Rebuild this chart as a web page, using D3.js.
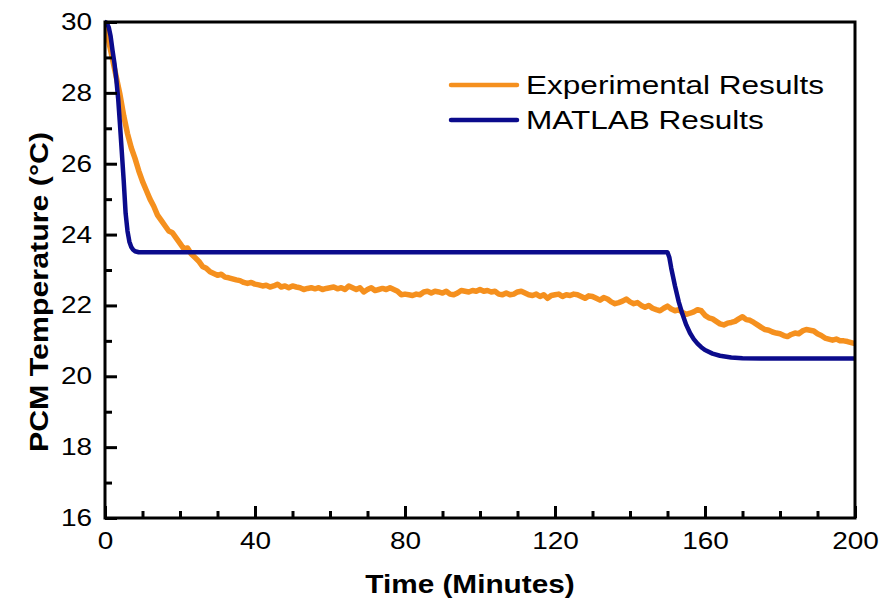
<!DOCTYPE html>
<html>
<head>
<meta charset="utf-8">
<script src="https://cdn.jsdelivr.net/npm/d3@7"></script>
<style>
  html, body { margin: 0; padding: 0; background: #fff; }
  svg { display: block; }
  text { font-family: "Liberation Sans", Arial, sans-serif; fill: #000; }
</style>
</head>
<body>
<svg id="chart" width="884" height="604"></svg>
<script>
// Experimental PCM temperature, one reading per minute from t = 0 to 200 min
const expStart = 0;
const expStep = 1;
const expTemp = [
  29.85, 29.45, 28.95, 28.45, 27.95, 27.35, 26.85, 26.45, 26.15, 25.8, 25.5,
  25.25, 25.0, 24.8, 24.55, 24.4, 24.25, 24.1, 24.05, 23.9, 23.75,
  23.6, 23.62, 23.45, 23.35, 23.25, 23.1, 23.05, 22.95, 22.9, 22.85,
  22.88, 22.8, 22.78, 22.75, 22.72, 22.7, 22.65, 22.62, 22.65, 22.6,
  22.58, 22.55, 22.57, 22.52, 22.55, 22.6, 22.52, 22.55, 22.5, 22.55,
  22.52, 22.5, 22.45, 22.48, 22.5, 22.47, 22.5, 22.45, 22.48, 22.5,
  22.52, 22.47, 22.5, 22.45, 22.55, 22.5, 22.45, 22.5, 22.38, 22.45,
  22.5, 22.42, 22.45, 22.48, 22.45, 22.5, 22.45, 22.4, 22.3, 22.32,
  22.3, 22.28, 22.32, 22.3, 22.38, 22.4, 22.35, 22.4, 22.38, 22.35,
  22.4, 22.32, 22.3, 22.35, 22.42, 22.4, 22.38, 22.42, 22.4, 22.45,
  22.4, 22.42, 22.38, 22.4, 22.32, 22.3, 22.35, 22.3, 22.32, 22.38,
  22.4, 22.35, 22.3, 22.28, 22.32, 22.25, 22.3, 22.2, 22.28, 22.3,
  22.32, 22.25, 22.3, 22.28, 22.32, 22.3, 22.25, 22.2, 22.27, 22.25,
  22.2, 22.15, 22.22, 22.18, 22.1, 22.05, 22.08, 22.12, 22.18, 22.1,
  22.05, 22.08, 22.0, 21.95, 22.0, 21.92, 21.88, 21.85, 21.92, 21.98,
  21.9, 21.85, 21.88, 21.8, 21.75, 21.78, 21.82, 21.88, 21.85, 21.72,
  21.65, 21.62, 21.55, 21.48, 21.45, 21.5, 21.52, 21.55, 21.62, 21.68,
  21.6, 21.58, 21.52, 21.45, 21.38, 21.32, 21.3, 21.25, 21.22, 21.2,
  21.15, 21.12, 21.18, 21.22, 21.2, 21.28, 21.32, 21.3, 21.28, 21.2,
  21.15, 21.08, 21.05, 21.02, 21.05, 21.0, 21.0, 20.98, 20.95, 20.92
];

// MATLAB model output
const matlabTime = [
  0, 0.5, 1, 1.5, 2, 2.5, 3, 3.5, 4, 4.5, 5, 5.5, 6, 6.5, 7, 7.5, 8, 9,
  150, 150.5, 151, 152, 153, 154, 155, 156, 157, 158, 159, 160, 162, 164, 167, 170, 175, 200
];
const matlabTemp = [
  30, 29.97, 29.85, 29.6, 29.2, 28.85, 28.4, 27.85, 27.1, 26.3, 25.5, 24.6, 24.1, 23.8, 23.65, 23.57, 23.53, 23.5,
  23.5, 23.35, 23.05, 22.55, 22.1, 21.75, 21.45, 21.22, 21.05, 20.92, 20.82, 20.74, 20.64, 20.58, 20.53, 20.51, 20.5, 20.5
];

// Axis ticks
const xMajorTicks = [0, 40, 80, 120, 160, 200];
const xMinorTicks = [10, 20, 30, 50, 60, 70, 90, 100, 110, 130, 140, 150, 170, 180, 190];
const yMajorTicks = [16, 18, 20, 22, 24, 26, 28, 30];
const yMinorTicks = [17, 19, 21, 23, 25, 27, 29];

const seriesNames = ["Experimental Results", "MATLAB Results"];
const seriesColors = ["#F5901E", "#0B0B8C"];
const xTitle = "Time (Minutes)";
const yTitle = "PCM Temperature (\u00B0C)";

(function draw() {
  // Glyph widening applied to every label
  const WIDEN = 1.19;
  function widen(sel) {
    sel.each(function () {
      const w = this.getComputedTextLength();
      if (w > 0) {
        d3.select(this)
          .attr("textLength", w * WIDEN)
          .attr("lengthAdjust", "spacingAndGlyphs");
      }
    });
  }

  const svg = d3.select("#chart");
  const pLeft = 105, pRight = 855, pTop = 22, pBottom = 518;

  const x = d3.scaleLinear().domain([0, 200]).range([pLeft, pRight]);
  const y = d3.scaleLinear().domain([16, 30]).range([pBottom, pTop]);

  const expData = expTemp.map((v, i) => ({ t: expStart + i * expStep, v }));
  const matlabData = matlabTime.map((t, i) => ({ t, v: matlabTemp[i] }));

  const line = d3.line().x(d => x(d.t)).y(d => y(d.v));

  svg.append("clipPath").attr("id", "plotClip")
    .append("rect")
    .attr("x", pLeft).attr("y", pTop - 3)
    .attr("width", pRight - pLeft).attr("height", pBottom - pTop + 3);

  const plot = svg.append("g").attr("clip-path", "url(#plotClip)");

  plot.append("path")
    .datum(expData)
    .attr("d", line)
    .attr("fill", "none")
    .attr("stroke", seriesColors[0])
    .attr("stroke-width", 5.5)
    .attr("stroke-linejoin", "round")
    .attr("stroke-linecap", "round");

  plot.append("path")
    .datum(matlabData)
    .attr("d", line)
    .attr("fill", "none")
    .attr("stroke", seriesColors[1])
    .attr("stroke-width", 4.5)
    .attr("stroke-linejoin", "round")
    .attr("stroke-linecap", "round");

  // Frame around the plot area
  svg.append("rect")
    .attr("x", pLeft).attr("y", pTop)
    .attr("width", pRight - pLeft).attr("height", pBottom - pTop)
    .attr("fill", "none")
    .attr("stroke", "#000")
    .attr("stroke-width", 3);

  // Axes with inward ticks
  function styleAxis(g) {
    g.select(".domain").remove();
    g.selectAll(".tick line").attr("stroke", "#000").attr("stroke-width", 3);
  }

  const gxMinor = svg.append("g")
    .attr("transform", `translate(0,${pBottom})`)
    .call(d3.axisBottom(x).tickValues(xMinorTicks).tickSize(-7).tickFormat(""));
  styleAxis(gxMinor);

  const gx = svg.append("g")
    .attr("transform", `translate(0,${pBottom})`)
    .call(d3.axisBottom(x).tickValues(xMajorTicks).tickSize(-12).tickPadding(14).tickFormat(d3.format("d")));
  styleAxis(gx);
  gx.selectAll(".tick text")
    .attr("font-size", 23.5)
    .call(widen);

  const gyMinor = svg.append("g")
    .attr("transform", `translate(${pLeft},0)`)
    .call(d3.axisLeft(y).tickValues(yMinorTicks).tickSize(-7).tickFormat(""));
  styleAxis(gyMinor);

  const gy = svg.append("g")
    .attr("transform", `translate(${pLeft},0)`)
    .call(d3.axisLeft(y).tickValues(yMajorTicks).tickSize(-12).tickPadding(13).tickFormat(d3.format("d")));
  styleAxis(gy);
  gy.selectAll(".tick text")
    .attr("font-size", 23.5)
    .call(widen);

  // Axis titles
  svg.append("text")
    .attr("x", 470).attr("y", 593)
    .attr("text-anchor", "middle")
    .attr("font-size", 25)
    .attr("font-weight", "bold")
    .text(xTitle)
    .call(widen);

  svg.append("text")
    .attr("transform", "translate(48,292) rotate(-90)")
    .attr("text-anchor", "middle")
    .attr("font-size", 25.5)
    .attr("font-weight", "bold")
    .text(yTitle)
    .call(widen);

  // Legend
  const legend = svg.append("g");
  seriesNames.forEach((name, i) => {
    const ly = 85 + i * 35;
    legend.append("line")
      .attr("x1", 451).attr("x2", 517)
      .attr("y1", ly).attr("y2", ly)
      .attr("stroke", seriesColors[i])
      .attr("stroke-width", 4.5)
      .attr("stroke-linecap", "round");
    legend.append("text")
      .attr("x", 526).attr("y", ly + 9)
      .attr("font-size", 26.5)
      .text(name)
      .call(widen);
  });
})();
</script>
</body>
</html>
